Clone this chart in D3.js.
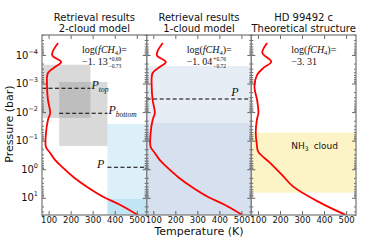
<!DOCTYPE html>
<html>
<head>
<meta charset="utf-8">
<script src="https://cdn.jsdelivr.net/npm/d3@7"></script>
<style>
body { margin: 0; background: #fff; }
svg text { font-family: "DejaVu Sans", sans-serif; fill: #111; }
svg .math { font-family: "Liberation Serif", "DejaVu Serif", serif; }
</style>
</head>
<body>
<svg id="chart" width="375" height="240"></svg>
<script>
// ---- data ----
const panelTitles = [["Retrieval results", "2-cloud model"], ["Retrieval results", "1-cloud model"], ["HD 99492 c", "Theoretical structure"]];
const xTicks = [100, 200, 300, 400, 500];
const yTicks = [1e-4, 1e-3, 1e-2, 1e-1, 1, 10];
const yTickExp = ["\u22124", "\u22123", "\u22122", "\u22121", "0", "1"];

// retrieved T-P profile (panels 1 and 2), pressure in bar, T in K
const retrievedPres = [3.8e-5, 1.0e-4, 1.76e-4, 2.63e-4, 4.27e-4, 1.32e-3, 3.76e-3, 1.07e-2, 1.88e-2, 5.4e-2, 0.166, 0.269, 0.473, 0.832, 1.86, 4.17, 9.33, 17.8, 39.8];
const retrievedTemp = [143, 116, 157, 129, 97, 93, 97, 107, 97, 88, 88, 107, 129, 161, 212, 275, 349, 426, 504];
// theoretical profile (panel 3)
const theoryPres = [3.8e-5, 8.5e-5, 1.72e-4, 2.85e-4, 5.0e-4, 1.29e-3, 3.76e-3, 1.07e-2, 1.88e-2, 5.4e-2, 0.141, 0.243, 0.60, 1.58, 4.07, 15.1, 39.8];
const theoryTemp = [142, 120, 160, 125, 96, 84, 96, 102, 95, 90, 95, 101, 155, 209, 260, 384, 498];

const ch4Value = ["\u22121. 13", "\u22121. 04", "\u22123. 31"];
const ch4Plus = ["+0.69", "+0.76", null];
const ch4Minus = ["\u22120.73", "\u22120.72", null];

// 2-cloud model
const topCloudTemp = [70, 290], topCloudPres = [2.2e-4, 1.6e-2], pTop = 1.47e-3;
const botCloudTemp = [148, 367], botCloudPres = [8.8e-4, 0.153], pBottom = 0.011;
const deepCloudTemp = [367, 545], deepCloudPres = [0.026, 40], deepCloudCore = [11, 40], pDeep = 0.85;
// 1-cloud model
const oneCloudPres = [2.43e-4, 40], oneCloudCore = [0.024, 40], pOne = 3.47e-3;
// theoretical NH3 cloud
const nh3CloudPres = [0.052, 6.6];

// ---- layout ----
const margin = { left: 42, top: 35 };
const pw = 104.67, ph = 180;

const svg = d3.select("#chart");

const x = d3.scaleLinear().domain([70, 545]).range([0, pw]);
const y = d3.scaleLog().domain([2e-5, 40]).range([0, ph]);

let minorTicks = [];
for (let e = -5; e <= 1; e++) {
    for (let k = 2; k <= 9; k++) {
        let v = +(k * Math.pow(10, e)).toPrecision(3);
        if (v >= 2e-5 && v <= 40) minorTicks.push(v);
    }
}

const line = d3.line()
    .x(d => x(d[0]))
    .y(d => y(d[1]))
    .curve(d3.curveCatmullRom.alpha(0.5));

const profiles = [
    d3.zip(retrievedTemp, retrievedPres),
    d3.zip(retrievedTemp, retrievedPres),
    d3.zip(theoryTemp, theoryPres)
];

svg.append("defs").append("clipPath").attr("id", "clip")
    .append("rect").attr("width", pw).attr("height", ph);

function box(g, t, p, fill, op) {
    g.append("rect")
        .attr("x", x(t[0]))
        .attr("width", x(t[1]) - x(t[0]))
        .attr("y", y(p[0]))
        .attr("height", y(p[1]) - y(p[0]))
        .attr("fill", fill)
        .attr("fill-opacity", op);
}

function dashed(g, t, p) {
    g.append("line")
        .attr("x1", x(t[0])).attr("x2", x(t[1]))
        .attr("y1", y(p)).attr("y2", y(p))
        .attr("stroke", "#000")
        .attr("stroke-width", 1.1)
        .attr("stroke-dasharray", "4,2.5");
}

function pLabel(g, px, py, sub, anchor) {
    let t = g.append("text").attr("class", "math")
        .attr("x", px).attr("y", py)
        .attr("text-anchor", anchor || "start")
        .style("font-size", "12px").style("font-style", "italic");
    t.append("tspan").text("P");
    if (sub) t.append("tspan").attr("dy", 3).style("font-size", "7.5px").text(sub);
}

for (let i = 0; i < 3; i++) {
    let g = svg.append("g")
        .attr("transform", `translate(${margin.left + i * pw},${margin.top})`);
    let inner = g.append("g").attr("clip-path", "url(#clip)");

    // cloud regions
    if (i == 0) {
        box(inner, topCloudTemp, topCloudPres, "#808080", 0.3);
        box(inner, botCloudTemp, botCloudPres, "#808080", 0.3);
        box(inner, deepCloudTemp, deepCloudPres, "#87ceeb", 0.3);
        box(inner, deepCloudTemp, deepCloudCore, "#87ceeb", 0.3);
    } else if (i == 1) {
        box(inner, x.domain(), oneCloudPres, "#b0c4de", 0.3);
        box(inner, x.domain(), oneCloudCore, "#b0c4de", 0.3);
    } else {
        box(inner, x.domain(), nh3CloudPres, "#fcf3c6", 1);
    }

    // T-P profile
    inner.append("path")
        .attr("d", line(profiles[i]))
        .attr("fill", "none")
        .attr("stroke", "#ff0000")
        .attr("stroke-width", 1.8);

    // cloud pressure markers
    if (i == 0) {
        dashed(inner, topCloudTemp, pTop);
        dashed(inner, botCloudTemp, pBottom);
        dashed(inner, deepCloudTemp, pDeep);
        pLabel(g, x(topCloudTemp[1]) + 1, y(pTop) + 1, "top");
        pLabel(g, x(botCloudTemp[1]) + 1, y(pBottom) + 1, "bottom");
        pLabel(g, x(deepCloudTemp[0]) - 3, y(pDeep) + 1, null, "end");
    } else if (i == 1) {
        dashed(inner, x.domain(), pOne);
        pLabel(g, pw - 20, y(pOne) - 2.5, null);
    } else {
        let nh = g.append("text")
            .attr("x", 40).attr("y", 114)
            .style("font-size", "9px");
        nh.append("tspan").text("NH");
        nh.append("tspan").attr("dy", 2).style("font-size", "6px").text("3");
        nh.append("tspan").attr("dy", -2).attr("dx", 5).text("cloud");
    }

    // methane abundance
    let l1 = g.append("text").attr("class", "math")
        .attr("x", 40).attr("y", 18)
        .style("font-size", "10px");
    l1.append("tspan").text("log(");
    l1.append("tspan").style("font-style", "italic").text("fCH");
    l1.append("tspan").attr("dy", 1.5).style("font-size", "6.5px").text("4");
    l1.append("tspan").attr("dy", -1.5).text(")=");

    let l2 = g.append("text").attr("class", "math")
        .attr("x", 40).attr("y", 29.5)
        .style("font-size", "10px")
        .text(ch4Value[i]);
    if (ch4Plus[i]) {
        let w = l2.node().getComputedTextLength();
        g.append("text").attr("class", "math")
            .attr("x", 40 + w + 1).attr("y", 26.3)
            .style("font-size", "5.5px").text(ch4Plus[i]);
        g.append("text").attr("class", "math")
            .attr("x", 40 + w + 1).attr("y", 32.5)
            .style("font-size", "5.5px").text(ch4Minus[i]);
    }

    // axes: ticks pointing inward on all four sides
    let xb = g.append("g").attr("transform", `translate(0,${ph})`)
        .call(d3.axisBottom(x).tickValues(xTicks).tickSizeInner(-4).tickSizeOuter(0).tickPadding(1.5));
    xb.selectAll("text").style("font-size", "8.5px").attr("fill", "#111");
    g.append("g")
        .call(d3.axisTop(x).tickValues(xTicks).tickSizeInner(-4).tickSizeOuter(0).tickFormat(""));

    for (let side of ["left", "right"]) {
        let ax = side == "left" ? d3.axisLeft : d3.axisRight;
        let tx = side == "left" ? 0 : pw;
        g.append("g").attr("transform", `translate(${tx},0)`)
            .call(ax(y).tickValues(yTicks).tickSizeInner(-4).tickSizeOuter(0).tickFormat(""));
        g.append("g").attr("transform", `translate(${tx},0)`)
            .call(ax(y).tickValues(minorTicks).tickSizeInner(-2).tickSizeOuter(0).tickFormat(""));
    }
    g.selectAll(".domain").remove();
    g.selectAll(".tick line").attr("stroke", "#444").attr("stroke-width", 0.8);

    // frame
    g.append("rect")
        .attr("width", pw).attr("height", ph)
        .attr("fill", "none")
        .attr("stroke", "#808080")
        .attr("stroke-width", 1.3);

    // titles
    g.selectAll(".title")
        .data(panelTitles[i]).join("text")
        .attr("class", "title")
        .attr("x", pw / 2)
        .attr("y", (d, j) => -14 + j * 11)
        .attr("text-anchor", "middle")
        .style("font-size", "10px")
        .text(d => d);

    // y tick labels on first panel only
    if (i == 0) {
        let lab = g.selectAll(".ylab")
            .data(yTicks).join("text")
            .attr("class", "ylab")
            .attr("x", -4)
            .attr("y", d => y(d) + 3.6)
            .attr("text-anchor", "end")
            .style("font-size", "10px");
        lab.append("tspan").text("10");
        lab.append("tspan").attr("dy", -5).style("font-size", "6.5px").text((d, j) => yTickExp[j]);
    }
}

svg.append("text")
    .attr("text-anchor", "middle")
    .attr("transform", "translate(13,124) rotate(-90)")
    .style("font-size", "11px")
    .text("Pressure (bar)");

svg.append("text")
    .attr("text-anchor", "middle")
    .attr("x", margin.left + 1.5 * pw)
    .attr("y", 234.5)
    .style("font-size", "11px")
    .text("Temperature (K)");
</script>
</body>
</html>
